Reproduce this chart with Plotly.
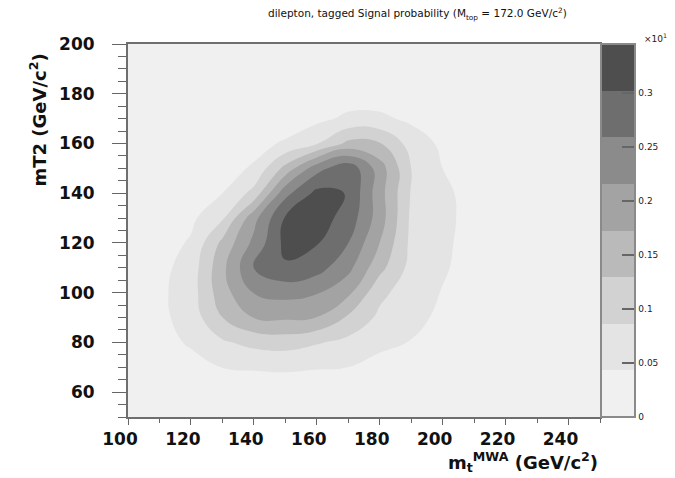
import plotly.graph_objects as go

# grid (GeV)
x_vals = [100, 110, 120, 130, 140, 150, 160, 170, 180, 190, 200, 210, 220, 230, 240, 250]
y_vals = [50, 60, 70, 80, 90, 100, 110, 120, 130, 140, 150, 160, 170, 180, 190, 200]

# signal probability (x10^1 units), one row per y value, columns follow x_vals
z_y50 = [0, 0, 0, 0, 0, 0, 0, 0, 0, 0, 0, 0, 0, 0, 0, 0]
z_y60 = [0, 0, 0.005, 0.010, 0.020, 0.020, 0.015, 0.010, 0.004, 0, 0, 0, 0, 0, 0, 0]
z_y70 = [0, 0.004, 0.026, 0.044, 0.047, 0.049, 0.046, 0.043, 0.022, 0.003, 0, 0, 0, 0, 0, 0]
z_y80 = [0.004, 0.026, 0.049, 0.080, 0.099, 0.105, 0.090, 0.074, 0.058, 0.041, 0.019, 0.002, 0, 0, 0, 0]
z_y90 = [0.011, 0.032, 0.063, 0.129, 0.174, 0.179, 0.172, 0.123, 0.077, 0.056, 0.034, 0.013, 0, 0, 0, 0]
z_y100 = [0.013, 0.034, 0.066, 0.155, 0.217, 0.230, 0.219, 0.182, 0.097, 0.064, 0.041, 0.019, 0, 0, 0, 0]
z_y110 = [0.009, 0.030, 0.062, 0.161, 0.259, 0.296, 0.276, 0.228, 0.143, 0.072, 0.048, 0.026, 0.004, 0, 0, 0]
z_y120 = [0.002, 0.024, 0.048, 0.140, 0.227, 0.314, 0.305, 0.259, 0.172, 0.076, 0.051, 0.028, 0.006, 0, 0, 0]
z_y130 = [0, 0.013, 0.034, 0.080, 0.201, 0.306, 0.322, 0.285, 0.194, 0.078, 0.053, 0.030, 0.009, 0, 0, 0]
z_y140 = [0, 0, 0.021, 0.043, 0.100, 0.245, 0.314, 0.300, 0.190, 0.083, 0.052, 0.028, 0.006, 0, 0, 0]
z_y150 = [0, 0, 0.002, 0.024, 0.049, 0.143, 0.242, 0.290, 0.194, 0.086, 0.043, 0.021, 0, 0, 0, 0]
z_y160 = [0, 0, 0, 0.004, 0.026, 0.050, 0.083, 0.140, 0.132, 0.069, 0.034, 0.013, 0, 0, 0, 0]
z_y170 = [0, 0, 0, 0, 0, 0.011, 0.032, 0.052, 0.052, 0.034, 0.013, 0, 0, 0, 0, 0]
z_y180 = [0, 0, 0, 0, 0, 0, 0.010, 0.020, 0.020, 0.010, 0, 0, 0, 0, 0, 0]
z_y190 = [0, 0, 0, 0, 0, 0, 0, 0, 0, 0, 0, 0, 0, 0, 0, 0]
z_y200 = [0, 0, 0, 0, 0, 0, 0, 0, 0, 0, 0, 0, 0, 0, 0, 0]

z_rows = [z_y50, z_y60, z_y70, z_y80, z_y90, z_y100, z_y110, z_y120,
          z_y130, z_y140, z_y150, z_y160, z_y170, z_y180, z_y190, z_y200]

z_max = 0.345
n_bands = 8
band = z_max / n_bands

cbar_tickvals = [0, 0.05, 0.1, 0.15, 0.2, 0.25, 0.3]
cbar_ticktext = ["0", "0.05", "0.1", "0.15", "0.2", "0.25", "0.3"]

grays = ["#f0f0f0", "#e4e4e4", "#d2d2d2", "#bababa", "#a3a3a3", "#8b8b8b", "#6e6e6e", "#4e4e4e"]
colorscale = [[i / (len(grays) - 1), c] for i, c in enumerate(grays)]

font_family = "DejaVu Sans, Verdana, sans-serif"

fig = go.Figure(go.Contour(
    x=x_vals, y=y_vals, z=z_rows,
    autocontour=False,
    contours=dict(start=band, end=band * (n_bands - 1), size=band,
                  coloring="fill", showlines=False),
    line=dict(width=0, smoothing=1.3),
    colorscale=colorscale,
    zmin=0, zmax=z_max,
    colorbar=dict(
        x=1.0, xanchor="left", xpad=1, y=0.5, yanchor="middle", ypad=0,
        len=1, lenmode="fraction", thickness=34,
        outlinecolor="#8a8a8a", outlinewidth=2,
        tickvals=cbar_tickvals, ticktext=cbar_ticktext,
        ticks="inside", ticklen=14, tickcolor="#666666", tickwidth=2,
        tickfont=dict(family=font_family, size=9, color="#222"),
    ),
    hoverinfo="skip",
))

axis_common = dict(
    showgrid=False, zeroline=False, showline=True, mirror=True,
    linecolor="#6e6e6e", linewidth=2,
    ticks="outside", tickcolor="#666", tickwidth=1,
    tickfont=dict(family=font_family, size=17, color="#111", weight="bold"),
)

fig.update_layout(
    width=675, height=478,
    margin=dict(l=128, r=75, t=44, b=61, autoexpand=False),
    paper_bgcolor="white", plot_bgcolor="#f0f0f0",
    xaxis=dict(range=[100, 250], dtick=20, tick0=100, ticklen=6,
               ticklabelshift=-8,
               minor=dict(dtick=10, ticks="outside", ticklen=4, tickcolor="#666"),
               **axis_common),
    yaxis=dict(range=[50, 200], dtick=20, tick0=60, ticklen=14,
               ticklabelstandoff=14,
               minor=dict(dtick=5, ticks="outside", ticklen=8, tickcolor="#666"),
               **axis_common),
    showlegend=False,
    annotations=[
        dict(text="dilepton, tagged Signal probability (M<sub>top</sub> = 172.0 GeV/c<sup>2</sup>)",
             xref="paper", yref="paper", x=(417 - 128) / 472, y=1 + 30 / 373,
             xanchor="center", yanchor="middle", showarrow=False,
             font=dict(family=font_family, size=10.5, color="#111")),
        dict(text="mT2 (GeV/c<sup>2</sup>)", textangle=-90,
             xref="paper", yref="paper", x=-(128 - 38) / 472, y=1 - 8 / 373,
             xanchor="center", yanchor="top", showarrow=False,
             font=dict(family=font_family, size=18, color="#111", weight="bold")),
        dict(text="m<sub>t</sub><sup>MWA</sup> (GeV/c<sup>2</sup>)",
             xref="paper", yref="paper", x=1.0, y=-(462 - 417) / 373,
             xanchor="right", yanchor="middle", showarrow=False,
             font=dict(family=font_family, size=18, color="#111", weight="bold")),
        dict(text="×10<sup>1</sup>",
             xref="paper", yref="paper", x=(655 - 128) / 472, y=1 + 6 / 373,
             xanchor="center", yanchor="middle", showarrow=False,
             font=dict(family=font_family, size=9, color="#222")),
    ],
)

fig.write_html("out.html")
